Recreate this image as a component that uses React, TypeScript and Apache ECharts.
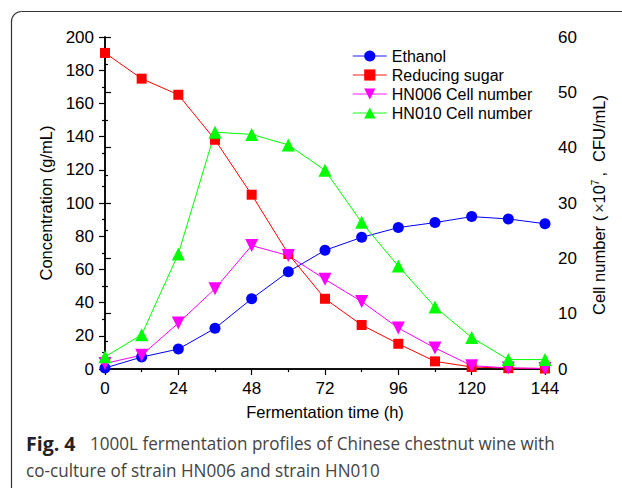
import React, { useEffect, useRef } from "react";
import * as echarts from "echarts";

const times = [0, 12, 24, 36, 48, 60, 72, 84, 96, 108, 120, 132, 144];
const ethanol = [0.6, 7.2, 12, 24.5, 42.3, 58.6, 71.5, 79.3, 85.2, 88.2, 91.8, 90.4, 87.5];
const reducingSugar = [190.4, 174.9, 165.2, 138.1, 105, 69.3, 42.3, 26.5, 15.2, 4.6, 1.2, 0.5, 0.3];
const hn006 = [1.0, 2.5, 8.3, 14.5, 22.3, 20.5, 16.2, 12.2, 7.4, 3.8, 0.6, 0.2, 0.1];
const hn010 = [2.2, 6.2, 20.8, 42.8, 42.4, 40.5, 35.9, 26.5, 18.6, 11.2, 5.7, 1.7, 1.7];

const xTickLabels = ["0", "24", "48", "72", "96", "120", "144"];
const seriesNames = ["Ethanol", "Reducing sugar", "HN006 Cell number", "HN010 Cell number"];
const captionBold = "Fig. 4";
const captionLine1 = "1000L fermentation profiles of Chinese chestnut wine with";
const captionLine2 = "co-culture of strain HN006 and strain HN010";
const rightAxisTitle = "{a|Cell number (}{g1| }{x|×}{a|10}{s|7}{g1| }{a|,}{g2| }{a|CFU/mL)}";

const FONT = "'Liberation Sans', Arial, sans-serif";
const CAP_FONT = "'Open Sans', sans-serif";

export default function App() {
  const ref = useRef<HTMLDivElement>(null);
  useEffect(() => {
    if (!ref.current) return;
    const chart = echarts.init(ref.current, null, { renderer: "svg" });
    const pairs = (arr: number[]) => times.map((t, i) => [t, arr[i]]);
    const axisCommon = {
      axisLine: { show: true, lineStyle: { color: "#000", width: 1.5 } },
      splitLine: { show: false },
    };
    chart.setOption({
      animation: false,
      backgroundColor: "#fff",
      textStyle: { fontFamily: FONT },
      grid: { left: 105, top: 37, width: 440, height: 332 },
      legend: {
        orient: "vertical",
        left: 347,
        top: 43,
        itemWidth: 34,
        itemHeight: 14,
        itemGap: 3,
        lineStyle: { width: 1.6, opacity: 0.6 },
        textStyle: { fontSize: 16, color: "#000", fontFamily: FONT },
        data: seriesNames,
      },
      xAxis: [
        {
          type: "value",
          position: "bottom",
          min: 0,
          max: 144,
          interval: 24,
          ...axisCommon,
          axisTick: { show: true, length: 6, inside: false, lineStyle: { color: "#000", width: 1.2 } },
          minorTick: { show: true, splitNumber: 2, length: 3, lineStyle: { color: "#000", width: 1.2 } },
          axisLabel: {
            margin: 11,
            fontSize: 17,
            color: "#000",
            fontFamily: FONT,
            formatter: (v: number) => (xTickLabels.includes(String(v)) ? String(v) : ""),
          },
          name: "Fermentation time (h)",
          nameLocation: "middle",
          nameGap: 34,
          nameTextStyle: { fontSize: 16.5, color: "#000", fontFamily: FONT },
        },
        {
          type: "value",
          position: "top",
          min: 0,
          max: 144,
          interval: 12,
          ...axisCommon,
          axisTick: { show: true, length: 3, inside: true, lineStyle: { color: "#000", width: 1 } },
          axisLabel: { show: false },
        },
      ],
      yAxis: [
        {
          type: "value",
          position: "left",
          min: 0,
          max: 200,
          interval: 20,
          ...axisCommon,
          axisTick: { show: true, length: 6, inside: false, lineStyle: { color: "#000", width: 1.2 } },
          minorTick: { show: true, splitNumber: 2, length: 3, lineStyle: { color: "#000", width: 1.2 } },
          axisLabel: { margin: 11, fontSize: 17, color: "#000", fontFamily: FONT },
          name: "Concentration (g/mL)",
          nameLocation: "middle",
          nameGap: 50,
          nameTextStyle: { fontSize: 16.5, color: "#000", fontFamily: FONT },
        },
        {
          type: "value",
          position: "right",
          min: 0,
          max: 60,
          interval: 10,
          ...axisCommon,
          axisTick: { show: true, length: 6, inside: false, lineStyle: { color: "#000", width: 1.2 } },
          minorTick: { show: true, splitNumber: 2, length: 3, lineStyle: { color: "#000", width: 1.2 } },
          axisLabel: { margin: 13, fontSize: 17, color: "#000", fontFamily: FONT },
        },
      ],
      series: [
        {
          name: seriesNames[0],
          type: "line",
          xAxisIndex: 0,
          yAxisIndex: 0,
          data: pairs(ethanol),
          symbol: "circle",
          symbolSize: 11,
          itemStyle: { color: "#0000ff" },
          lineStyle: { color: "#0000ff", width: 1 },
        },
        {
          name: seriesNames[1],
          type: "line",
          xAxisIndex: 0,
          yAxisIndex: 0,
          data: pairs(reducingSugar),
          symbol: "rect",
          symbolSize: 10,
          itemStyle: { color: "#ff0000" },
          lineStyle: { color: "#ff0000", width: 1 },
        },
        {
          name: seriesNames[2],
          type: "line",
          xAxisIndex: 0,
          yAxisIndex: 1,
          data: pairs(hn006),
          symbol: "triangle",
          symbolRotate: 180,
          symbolSize: 13,
          itemStyle: { color: "#ff00ff" },
          lineStyle: { color: "#ff00ff", width: 1 },
        },
        {
          name: seriesNames[3],
          type: "line",
          xAxisIndex: 0,
          yAxisIndex: 1,
          data: pairs(hn010),
          symbol: "triangle",
          symbolSize: 13,
          itemStyle: { color: "#00ff00" },
          lineStyle: { color: "#00ff00", width: 1 },
        },
      ],
      graphic: [
        {
          type: "line",
          shape: { x1: 11.5, y1: 21, x2: 11.5, y2: 488 },
          style: { stroke: "#333", lineWidth: 1.2 },
        },
        {
          type: "line",
          shape: { x1: 21.5, y1: 11.5, x2: 622, y2: 11.5 },
          style: { stroke: "#333", lineWidth: 1.2 },
        },
        {
          type: "arc",
          shape: { cx: 21.5, cy: 21.5, r: 10, startAngle: Math.PI, endAngle: Math.PI * 1.5 },
          style: { stroke: "#333", lineWidth: 1.2, fill: "none" },
        },
        {
          type: "text",
          x: 599,
          y: 205,
          rotation: Math.PI / 2,
          style: {
            text: rightAxisTitle,
            align: "center",
            verticalAlign: "middle",
            rich: {
              a: { fontSize: 16.5, fill: "#000", fontFamily: FONT, lineHeight: 18 },
              x: { fontSize: 16, fill: "#333", fontFamily: FONT, lineHeight: 18 },
              g1: { fontSize: 16.5, width: 3, lineHeight: 18 },
              g2: { fontSize: 16.5, width: 10, lineHeight: 18 },
              s: { fontSize: 10, fill: "#000", fontFamily: FONT, verticalAlign: "top", lineHeight: 11 },
            },
          },
        },
        {
          type: "text",
          x: 26,
          y: 433,
          style: {
            text: captionBold,
            fontFamily: CAP_FONT,
            fontWeight: "bold",
            fontSize: 19.5,
            fill: "#222",
          },
        },
        {
          type: "text",
          x: 90,
          y: 434,
          scaleX: 0.95,
          style: {
            text: captionLine1,
            fontFamily: CAP_FONT,
            fontSize: 18,
            fill: "#444",
          },
        },
        {
          type: "text",
          x: 26,
          y: 461,
          scaleX: 0.95,
          style: {
            text: captionLine2,
            fontFamily: CAP_FONT,
            fontSize: 18,
            fill: "#444",
          },
        },
      ],
    });
    return () => chart.dispose();
  }, []);
  return (
    <div
      ref={ref}
      style={{ position: "fixed", left: 0, top: 0, width: 622, height: 492 }}
    />
  );
}
